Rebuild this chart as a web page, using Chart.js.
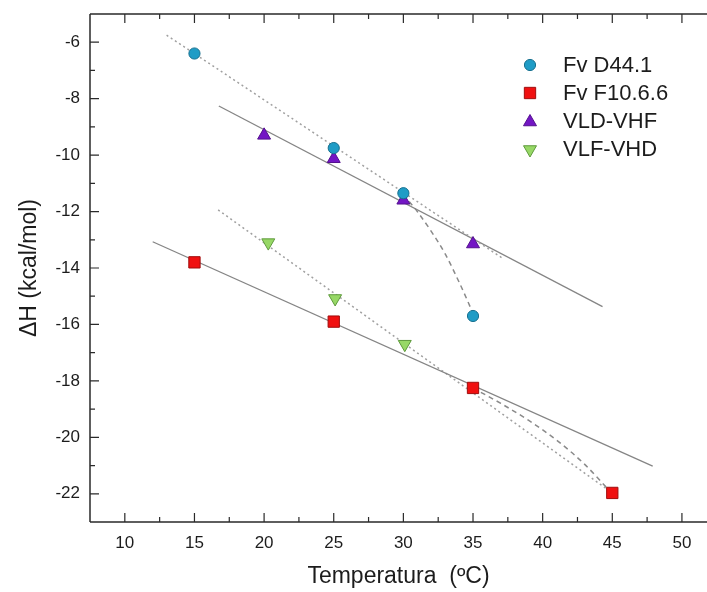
<!DOCTYPE html>
<html>
<head>
<meta charset="utf-8">
<script src="https://cdn.jsdelivr.net/npm/chart.js@4.4.0/dist/chart.umd.min.js"></script>
<style>
  html, body { margin: 0; padding: 0; background: #fff; }
  canvas { display: block; }
</style>
</head>
<body>
<canvas id="chart" width="707" height="592"></canvas>
<script>
// --- data ---
const seriesNames = ['Fv D44.1', 'Fv F10.6.6', 'VLD-VHF', 'VLF-VHD'];

const tempD44 = [15, 25, 30, 35];
const dhD44   = [-6.4, -9.75, -11.35, -15.7];
const tempF10 = [15, 25, 35, 45];
const dhF10   = [-13.8, -15.9, -18.25, -21.97];
const tempVLD = [20, 25, 30, 35];
const dhVLD   = [-9.3, -10.13, -11.6, -13.15];
const tempVLF = [20.3, 25.1, 30.1];
const dhVLF   = [-13.1, -15.08, -16.7];

// fit lines (end points) and curved fits
const fitD44X = [13, 37.2];     const fitD44Y = [-5.75, -13.68];
const fitVLDX = [16.75, 44.3];  const fitVLDY = [-8.26, -15.37];
const fitF10X = [12, 47.9];     const fitF10Y = [-13.07, -21.02];
const fitVLFX = [16.7, 44.6];   const fitVLFY = [-11.94, -21.83];
const curveD44X = [30, 31, 32, 33, 34, 35];
const curveD44Y = [-11.4, -12.0, -12.7, -13.5, -14.5, -15.6];
const curveF10X = [35, 37, 39, 41, 43, 45];
const curveF10Y = [-18.25, -18.8, -19.4, -20.1, -20.95, -22.0];

const xTicks = [10, 15, 20, 25, 30, 35, 40, 45, 50];
const xMinor = [12.5, 17.5, 22.5, 27.5, 32.5, 37.5, 42.5, 47.5];
const yTicks = [-22, -20, -18, -16, -14, -12, -10, -8, -6];
const yMinor = [-21, -19, -17, -15, -13, -11, -9, -7];

const pts = (xs, ys) => xs.map((x, i) => ({ x, y: ys[i] }));
const TXT = '#1c1c1c';
const FONT = '"Liberation Sans", Arial, sans-serif';

const markers = [
  { pointStyle: 'circle',   radius: 5.6, rotation: 0,   bg: '#1f9cc6', bd: '#17708f' },
  { pointStyle: 'rect',     radius: 8,   rotation: 0,   bg: '#f01010', bd: '#a00d0d' },
  { pointStyle: 'triangle', radius: 7.5, rotation: 0,   bg: '#7316c4', bd: '#54108f' },
  { pointStyle: 'triangle', radius: 7.5, rotation: 180, bg: '#97d866', bd: '#5e9a3c' },
];
const markerData = [pts(tempD44, dhD44), pts(tempF10, dhF10), pts(tempVLD, dhVLD), pts(tempVLF, dhVLF)];

const scatterSets = markerData.map((data, i) => ({
  type: 'scatter',
  label: seriesNames[i],
  data,
  order: 0,
  pointStyle: markers[i].pointStyle,
  pointRotation: markers[i].rotation,
  pointRadius: markers[i].radius,
  pointBackgroundColor: markers[i].bg,
  pointBorderColor: markers[i].bd,
  pointBorderWidth: 1,
  showLine: false,
}));

function fitLine(data, dash, color, width, tension) {
  return {
    type: 'line', data, order: 1,
    borderColor: color, borderWidth: width, borderDash: dash,
    pointRadius: 0, fill: false, tension: tension || 0,
    cubicInterpolationMode: tension ? 'monotone' : 'default',
  };
}

const lineSets = [
  fitLine(pts(fitD44X, fitD44Y), [2, 3], '#a0a0a0', 1.5),
  fitLine(pts(fitVLDX, fitVLDY), [], '#858585', 1.3),
  fitLine(pts(fitF10X, fitF10Y), [], '#858585', 1.3),
  fitLine(pts(fitVLFX, fitVLFY), [2, 3], '#a0a0a0', 1.5),
  fitLine(pts(curveD44X, curveD44Y), [5, 4], '#8a8a8a', 1.5, 0.4),
  fitLine(pts(curveF10X, curveF10Y), [5, 4], '#8a8a8a', 1.5, 0.4),
];

// axes frame, inward ticks and legend
const frame = {
  id: 'frame',
  afterDatasetsDraw(chart) {
    const { ctx, chartArea: a, scales: { x, y } } = chart;
    ctx.save();
    ctx.strokeStyle = '#2a2a2a';
    ctx.lineWidth = 1.5;
    ctx.beginPath();
    ctx.moveTo(a.left, a.top); ctx.lineTo(a.right, a.top);
    ctx.moveTo(a.left, a.top); ctx.lineTo(a.left, a.bottom);
    ctx.moveTo(a.left, a.bottom); ctx.lineTo(a.right, a.bottom);
    ctx.stroke();

    ctx.lineWidth = 1.2;
    ctx.beginPath();
    const xt = (v, len) => {
      const px = x.getPixelForValue(v);
      ctx.moveTo(px, a.bottom); ctx.lineTo(px, a.bottom - len);
      ctx.moveTo(px, a.top); ctx.lineTo(px, a.top + len);
    };
    const yt = (v, len) => {
      const py = y.getPixelForValue(v);
      ctx.moveTo(a.left, py); ctx.lineTo(a.left + len, py);
    };
    xTicks.forEach(v => xt(v, 9));
    xMinor.forEach(v => xt(v, 5));
    yTicks.forEach(v => yt(v, 9));
    yMinor.forEach(v => yt(v, 5));
    ctx.stroke();

    // legend
    const rows = [65, 93, 121, 148.5];
    ctx.font = '22px ' + FONT;
    ctx.fillStyle = TXT;
    ctx.textBaseline = 'middle';
    seriesNames.forEach((name, i) => {
      const m = markers[i];
      ctx.fillStyle = m.bg;
      ctx.strokeStyle = m.bd;
      ctx.lineWidth = 1;
      Chart.helpers.drawPoint(ctx, {
        pointStyle: m.pointStyle, rotation: m.rotation, radius: m.radius, borderWidth: 1,
      }, 530, rows[i] + (m.pointStyle === 'triangle' ? 1 : 0));
      ctx.fillStyle = TXT;
      ctx.fillText(name, 563, rows[i] + 1);
    });
    ctx.restore();
  },
};

new Chart(document.getElementById('chart'), {
  data: { datasets: [...scatterSets, ...lineSets] },
  options: {
    responsive: false,
    animation: false,
    layout: { autoPadding: false, padding: { top: 14, right: 0, left: 0, bottom: 0 } },
    plugins: { legend: { display: false }, tooltip: { enabled: false } },
    scales: {
      x: {
        type: 'linear', min: 7.5, max: 51.8,
        grid: { display: false, drawTicks: false },
        border: { display: false },
        afterBuildTicks: s => { s.ticks = xTicks.map(v => ({ value: v })); },
        afterFit: s => { s.height = 70; s.paddingLeft = 0; s.paddingRight = 0; },
        ticks: { color: TXT, font: { family: FONT, size: 17 }, padding: 11, maxRotation: 0 },
        title: {
          display: true, text: 'Temperatura  (\u00baC)', color: TXT,
          font: { family: FONT, size: 23 }, padding: { top: 0, bottom: 2 },
        },
      },
      y: {
        type: 'linear', min: -23, max: -5,
        grid: { display: false, drawTicks: false },
        border: { display: false },
        afterBuildTicks: s => { s.ticks = yTicks.map(v => ({ value: v })); },
        afterFit: s => { s.width = 90; s.paddingTop = 0; s.paddingBottom = 0; },
        ticks: { color: TXT, font: { family: FONT, size: 17 }, padding: 10 },
        title: {
          display: true, text: '\u0394H (kcal/mol)', color: TXT,
          font: { family: FONT, size: 23 }, padding: { top: 16, bottom: 0 },
        },
      },
    },
  },
  plugins: [frame],
});
</script>
</body>
</html>
